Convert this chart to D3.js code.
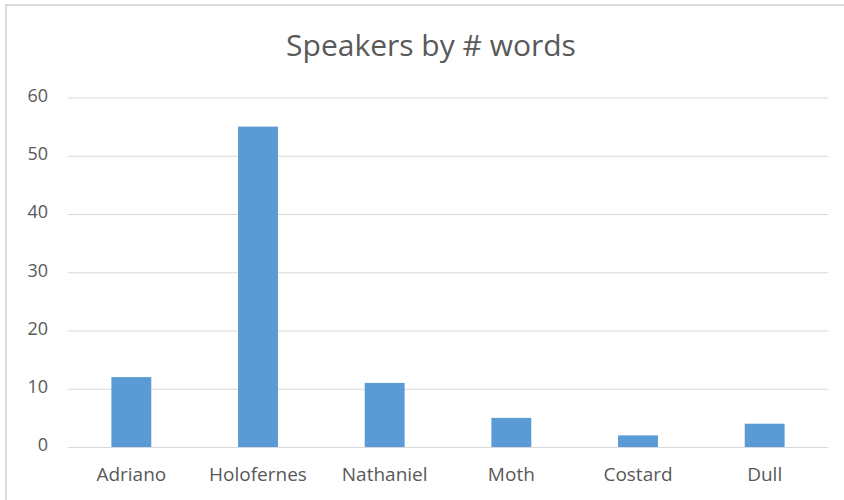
<!DOCTYPE html>
<html>
<head>
<meta charset="utf-8">
<script src="https://cdn.jsdelivr.net/npm/d3@7"></script>
<style>
  html, body { margin: 0; padding: 0; background: #fff; }
  svg { display: block; }
  text { font-family: "Open Sans", "Noto Sans", sans-serif; fill: #595959; }
</style>
</head>
<body>
<svg id="chart" width="844" height="500"></svg>
<script>
const speakers = ["Adriano", "Holofernes", "Nathaniel", "Moth", "Costard", "Dull"];
const wordCounts = [12, 55, 11, 5, 2, 4];
const yTicks = [0, 10, 20, 30, 40, 50, 60];
const chartTitle = "Speakers by # words";

const svg = d3.select("#chart");
const W = 844, H = 500;
const plot = { left: 68, right: 828, top: 97.5, bottom: 447 };

// chart area frame (top and left edges visible)
svg.append("path")
  .attr("d", `M6,${H} L6,5 L${W},5`)
  .attr("fill", "none")
  .attr("stroke", "#d9d9d9")
  .attr("stroke-width", 2);

const x = d3.scaleBand()
  .domain(speakers)
  .range([plot.left, plot.right])
  .paddingInner(0.685)
  .paddingOuter(0.3425);

const y = d3.scaleLinear()
  .domain([0, 60])
  .range([plot.bottom, plot.top]);

// horizontal gridlines + value labels
const yAxis = d3.axisLeft(y)
  .tickValues(yTicks)
  .tickSize(-(plot.right - plot.left));

const gy = svg.append("g")
  .attr("transform", `translate(${plot.left},0)`)
  .call(yAxis);
gy.select(".domain").remove();
gy.selectAll(".tick line").attr("stroke", "#d9d9d9").attr("stroke-width", 1);
gy.selectAll(".tick text")
  .attr("font-size", 18)
  .attr("x", -20)
  .attr("y", -2)
  .style("fill", "#595959");

// bars
svg.append("g").selectAll("rect")
  .data(speakers.map((s, i) => ({ s, v: wordCounts[i] })))
  .join("rect")
  .attr("x", d => x(d.s))
  .attr("width", x.bandwidth())
  .attr("y", d => y(d.v))
  .attr("height", d => y(0) - y(d.v))
  .attr("fill", "#5b9bd5");

// category labels
const xAxis = d3.axisBottom(x).tickSize(0).tickPadding(21);
const gx = svg.append("g")
  .attr("transform", `translate(0,${plot.bottom})`)
  .call(xAxis);
gx.select(".domain").remove();
gx.selectAll(".tick text")
  .attr("font-size", 19)
  .style("fill", "#595959");

// title
svg.append("text")
  .attr("x", 431)
  .attr("y", 56)
  .attr("text-anchor", "middle")
  .attr("font-size", 30)
  .text(chartTitle);
</script>
</body>
</html>
